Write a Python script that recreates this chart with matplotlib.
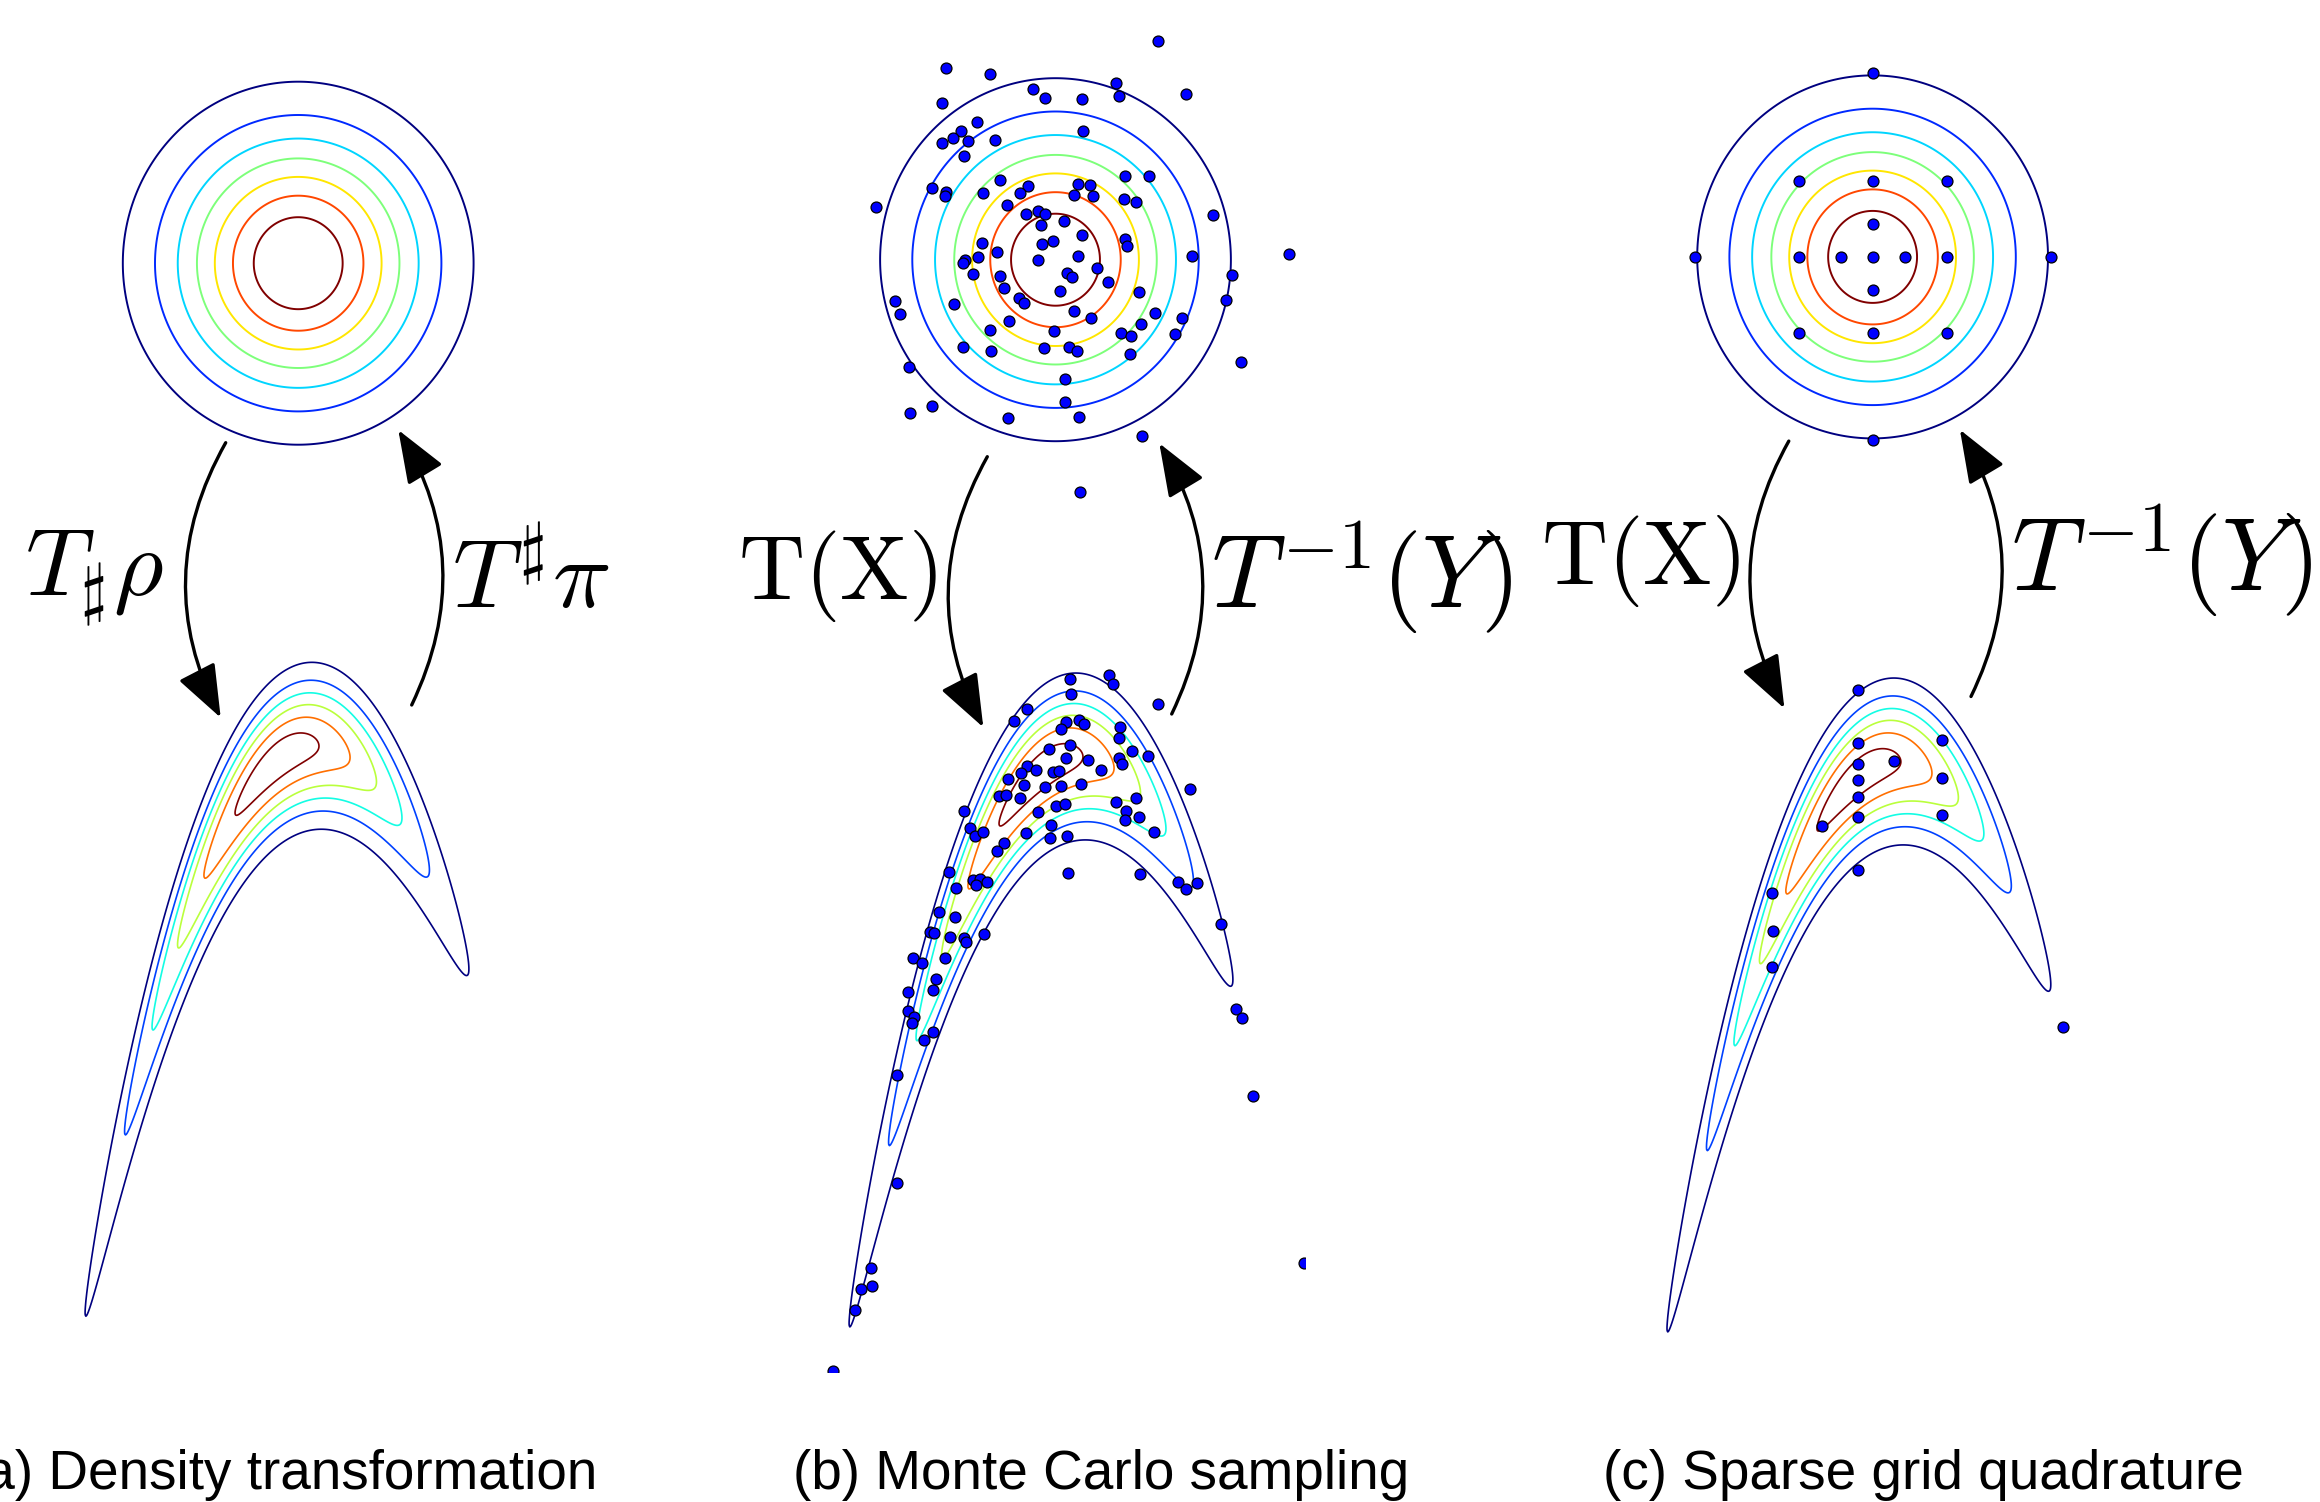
import numpy as np
import matplotlib
matplotlib.use("Agg")
import matplotlib.pyplot as plt
from matplotlib.patches import FancyArrowPatch

W, H = 2320, 1502
plt.rcParams['mathtext.fontset'] = 'cm'

# --- reference density: gaussian, axis units are 100 px ---
ref_sigma = (0.86, 0.89)
ref_levels = [0.125, 0.25, 0.375, 0.5, 0.625, 0.75, 0.875]

# --- target "banana" density ---
ban_mode = -0.39      # centre of first coordinate
ban_su = 0.95         # spread along the arms
ban_shift = -0.84     # height of the ridge at u = 0
ban_curv = 0.997      # curvature of the ridge
ban_skew = 0.0284     # cubic term, right arm sits a bit higher
ban_sw = 0.422        # spread across the ridge
ban_levels = [0.13, 0.276, 0.421, 0.578, 0.744, 0.907]

# --- Monte Carlo samples (panel b), reference space ---
mc_ref_x = [1.028, -1.098, -0.655, 0.602, -0.222, -0.105, 0.262, 0.632, 1.305, -1.138,
            -0.785, -0.948, -1.022, -1.138, -0.878, -0.602, 0.272, -0.918, -1.798, -1.235,
            -1.098, -1.105, -0.725, -0.558, -0.278, -0.358, -0.488, 0.225, 0.345, 0.185,
            0.378, 0.695, 0.938, 0.685, 0.802, 1.572, -0.292, -0.172, -0.105, -0.148,
            0.085, 0.262, -0.738, -0.135, -0.028, 0.692, 0.715, -0.588, -0.778, -0.902,
            -0.928, -0.172, 0.225, 1.365, 2.332, 1.762, -0.822, -0.555, 0.118, 0.168,
            0.415, 0.528, -0.512, -0.368, -0.315, 0.042, 0.835, -1.605, -1.552, -1.012,
            0.182, 0.358, 0.995, 1.268, 1.702, -0.462, -0.658, -0.015, 0.658, 0.752,
            0.858, 1.198, -0.928, -0.642, -0.118, 0.138, 0.218, 0.745, 1.852, -1.465,
            0.098, 0.092, -1.238, -1.452, -0.478, 0.238, 0.868, 0.245]
mc_ref_y = [2.187, 1.917, 1.857, 1.767, 1.707, 1.617, 1.607, 1.633, 1.657, 1.563,
            1.377, 1.29, 1.213, 1.17, 1.183, 1.197, 1.283, 1.037, 0.527, 0.713,
            0.68, 0.64, 0.67, 0.8, 0.737, 0.663, 0.547, 0.753, 0.743, 0.65,
            0.637, 0.84, 0.833, 0.603, 0.573, 0.447, 0.457, 0.49, 0.457, 0.343,
            0.383, 0.247, 0.167, 0.157, 0.183, 0.207, 0.14, 0.08, 0.03, -0.003,
            -0.03, -0.003, 0.037, 0.04, 0.06, -0.153, -0.143, -0.163, -0.137, -0.17,
            -0.08, -0.22, -0.287, -0.38, -0.437, -0.317, -0.32, -0.413, -0.547, -0.447,
            -0.51, -0.58, -0.53, -0.58, -0.407, -0.617, -0.7, -0.71, -0.73, -0.767,
            -0.64, -0.747, -0.873, -0.91, -0.887, -0.87, -0.91, -0.947, -1.027, -1.077,
            -1.193, -1.423, -1.463, -1.53, -1.583, -1.573, -1.763, -2.327]

# --- Monte Carlo samples (panel b), target space ---
mc_tgt_x = [-0.103, 0.287, 0.33, -0.09, 0.78, -0.527, -0.657, -0.14, -0.187, -0.007,
            0.04, 0.403, 0.393, -0.307, -0.103, -0.143, 0.077, 0.52, 0.683, 0.393,
            0.42, -0.533, -0.593, -0.437, -0.27, -0.21, 0.213, -0.717, -0.56, -0.347,
            -0.193, 0.01, 1.103, -0.81, -0.743, -0.603, 0.56, 0.357, -0.237, -0.147,
            -0.417, 0.463, 0.587, 0.453, -1.16, -1.1, -1.05, -0.967, -0.54, -0.287,
            -0.3, -0.127, 0.743, -0.76, -0.833, -0.117, 0.603, -1.31, -1.24, -1.067,
            -1.0, -0.933, -1.04, 0.983, 1.167, 1.06,
            -1.41, -1.25, -1.5, -1.457, -1.3, -1.16, -1.143, -0.96, -1.667, -1.583,
            -1.347, -1.443, -1.467, -1.717, -1.72, -1.66, -1.68, -1.47, -1.563, -1.827,
            -1.83, -2.087, -2.193, -2.077, -2.253, -2.473, 1.41, 1.557, 1.623, 1.73,
            2.24]
mc_tgt_y = [-0.063, -0.023, -0.113, -0.217, -0.313, -0.367, -0.487, -0.49, -0.567, -0.47,
            -0.513, -0.547, -0.657, -0.763, -0.727, -0.85, -0.873, -0.787, -0.833, -0.853,
            -0.913, -0.933, -1.007, -0.97, -0.99, -0.98, -0.973, -1.063, -1.123, -1.14,
            -1.133, -1.113, -1.163, -1.237, -1.22, -1.25, -1.257, -1.293, -1.337, -1.313,
            -1.393, -1.383, -1.44, -1.47, -1.383, -1.553, -1.637, -1.597, -1.607, -1.52,
            -1.653, -1.63, -1.597, -1.703, -1.787, -2.0, -2.013, -1.993, -2.153, -2.073,
            -2.063, -2.097, -2.12, -2.09, -2.107, -2.167,
            -2.397, -2.44, -2.597, -2.603, -2.647, -2.657, -2.697, -2.613, -2.85, -2.907,
            -2.853, -3.067, -3.17, -3.197, -3.38, -3.447, -3.507, -3.59, -3.673, -4.02,
            -5.1, -5.953, -6.163, -6.137, -6.373, -6.98, -2.513, -3.367, -3.45, -4.237,
            -5.9]

# --- sparse grid nodes (panel c) ---
sg_ref_x = [0, -0.32, 0.32, 0, 0, -0.74, 0.74, 0, 0, -0.74, 0.74, -0.74, 0.74, -1.78, 1.78, 0, 0]
sg_ref_y = [0, 0, 0, 0.33, -0.33, 0, 0, 0.76, -0.76, 0.76, 0.76, -0.76, -0.76, 0, 0, 1.835, -1.835]
sg_tgt_x = [-0.404, -0.404, 0.445, -0.404, -0.035, -0.404, 0.445, -0.404, -0.404, -0.762,
            0.445, -0.404, -1.257, -1.247, -1.257, 1.647]
sg_tgt_y = [-0.123, -0.653, -0.624, -0.866, -0.837, -1.027, -0.998, -1.188, -1.395, -1.487,
            -1.372, -1.924, -2.149, -2.528, -2.891, -3.489]

captions = ["(a) Density transformation", "(b) Monte Carlo sampling", "(c) Sparse grid quadrature"]
left_labels = [r"$T_\sharp\rho$", r"$\mathrm{T}(\mathrm{X})$", r"$\mathrm{T}(\mathrm{X})$"]
right_labels = [r"$T^\sharp\pi$", r"$T^{-1}(Y)$", r"$T^{-1}(Y)$"]

# layout (pixels, y from top)
ref_centers = [(298.2, 263.2), (1055.5, 259.7), (1872.6, 256.9)]
tgt_origins = [(316.0, 662.0), (1080.0, 672.7), (1897.9, 677.7)]
ref_lim = (-2.6, 2.6)
tgt_xlim = (-2.6, 2.245)
tgt_ylim = (-6.99, 0.4)
down_start = [(225.7, 442.7), (987.3, 456.7), (1788.8, 441.1)]
down_end = [(220.7, 717.7), (983.3, 727.3), (1784.4, 708.5)]
up_start = [(411.7, 705.0), (1171.7, 714.0), (1971.0, 696.5)]
up_end = [(398.3, 430.0), (1159.3, 443.3), (1959.9, 429.7)]
left_label_pos = [(25, 596, 'left'), (937, 599, 'right'), (1740, 584, 'right')]
left_label_size = [69, 66, 66]
right_label_pos = [(452, 608), (1211, 608), (2011, 591)]
right_label_size = [70, 74, 74]
caption_x = [282, 1101, 1923]
caption_y = 1489


def place_axes(fig, cx, cy, xlim, ylim, scale=100.0):
    left = cx + xlim[0] * scale
    width = (xlim[1] - xlim[0]) * scale
    top = cy - ylim[1] * scale
    height = (ylim[1] - ylim[0]) * scale
    ax = fig.add_axes([left / W, 1 - (top + height) / H, width / W, height / H])
    ax.set_xlim(*xlim)
    ax.set_ylim(*ylim)
    ax.axis('off')
    return ax


def ref_density(x, y):
    return np.exp(-0.5 * ((x / ref_sigma[0]) ** 2 + (y / ref_sigma[1]) ** 2))


def banana_density(u, w):
    ridge = ban_shift - ban_curv * u ** 2 + ban_skew * u ** 3
    return (np.exp(-0.5 * ((u - ban_mode) / ban_su) ** 2)
            * np.exp(-0.5 * ((w - ridge) / ban_sw) ** 2))


fig = plt.figure(figsize=(W / 100, H / 100), dpi=100)

gx = np.linspace(ref_lim[0], ref_lim[1], 500)
RX, RY = np.meshgrid(gx, gx)
RZ = ref_density(RX, RY)

bx = np.linspace(tgt_xlim[0], tgt_xlim[1], 600)
by = np.linspace(tgt_ylim[0], tgt_ylim[1], 1000)
BX, BY = np.meshgrid(bx, by)
BZ = banana_density(BX, BY)

dot = dict(s=62, c='#0000ff', edgecolors='black', linewidths=0.9, zorder=3)

for i in range(3):
    ax_r = place_axes(fig, *ref_centers[i], ref_lim, ref_lim)
    ax_r.contour(RX, RY, RZ, levels=ref_levels, cmap='jet', linewidths=1.4)
    ax_t = place_axes(fig, *tgt_origins[i], tgt_xlim, tgt_ylim)
    ax_t.contour(BX, BY, BZ, levels=ban_levels, cmap='jet', linewidths=1.2)
    if i == 1:
        ax_r.scatter(mc_ref_x, mc_ref_y, **dot)
        ax_t.scatter(mc_tgt_x, mc_tgt_y, **dot)
    elif i == 2:
        ax_r.scatter(sg_ref_x, sg_ref_y, **dot)
        ax_t.scatter(sg_tgt_x, sg_tgt_y, **dot)

# overlay for arrows, labels and captions
ov = fig.add_axes([0, 0, 1, 1])
ov.set_xlim(0, W)
ov.set_ylim(H, 0)
ov.axis('off')
ov.patch.set_alpha(0)

for i in range(3):
    for a, b in ((down_start[i], down_end[i]), (up_start[i], up_end[i])):
        ov.add_patch(FancyArrowPatch(a, b, connectionstyle="arc3,rad=0.27",
                                     arrowstyle="-|>,head_length=33,head_width=12.6",
                                     mutation_scale=1, lw=2.4, color='black',
                                     shrinkA=0, shrinkB=0))
    lx, ly, ha = left_label_pos[i]
    ov.text(lx, ly, left_labels[i], fontsize=left_label_size[i], ha=ha, va='baseline')
    rx, ry = right_label_pos[i]
    ov.text(rx, ry, right_labels[i], fontsize=right_label_size[i], ha='left', va='baseline')
    ov.text(caption_x[i], caption_y, captions[i], fontsize=39.5, ha='center',
            va='baseline', family='Liberation Sans')

fig.savefig("out.png", dpi=100)
